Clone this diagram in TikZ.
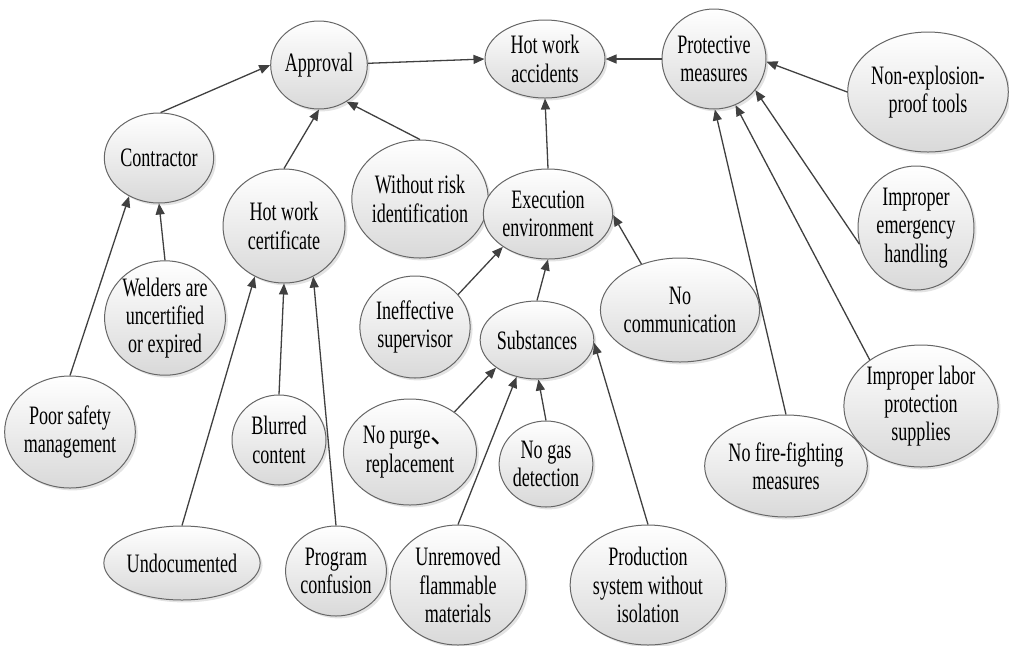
\documentclass[tikz,border=0pt]{standalone}
\usepackage{fontspec}
\setmainfont{Liberation Serif}[FakeStretch=0.68]
\newfontfamily\cjk{Noto Sans CJK SC}
\usepackage{tikz}
\usetikzlibrary{shapes,arrows.meta,shadows,positioning}
\tikzset{
	cause/.style = {draw=black!60, line width=0.5pt, ellipse, inner sep=0pt, align=center,
		top color=white, bottom color=black!15,
		drop shadow={shadow xshift=1.2pt, shadow yshift=-1.2pt, opacity=0.22},
		font=\fontsize{13.3}{14.2}\selectfont},
	sz/.style 2 args = {minimum width=#1pt, minimum height=#2pt},
	link/.style = {draw=black!75, line width=0.65pt}
}

\begin{document}
\begin{tikzpicture}[x=0.5pt, y=-0.5pt, >={Triangle[length=5.5pt,width=4.5pt]}]
    \useasboundingbox (0,0) rectangle (1009,645);

    % top row
    \node [cause, sz={46}{44}] (approval) at (319,65) {Approval};
    \node [cause, sz={60}{39}] (accidents) at (545,59) {Hot work\\accidents};
    \node [cause, sz={52}{50}] (protect) at (714,59) {Protective\\measures};
    \node [cause, sz={80}{60}] (nonexpl) at (928,92) {Non-explosion-\\proof tools};

    % second level
    \node [cause, sz={52}{45}] (contractor) at (159,158) {Contractor};
    \node [cause, sz={61}{57}] (certificate) at (284,226) {Hot work\\certificate};
    \node [cause, sz={62}{59}] (withoutrisk) at (420,199) {Without risk\\identification};
    \node [cause, sz={59}{45}] (execution) at (548,214) {Execution\\environment};
    \node [cause, sz={58}{62}] (emergency) at (916,228) {Improper\\emergency\\handling};

    % third level
    \node [cause, sz={58}{55}] (welders) at (165,318) {Welders are\\uncertified\\or expired};
    \node [cause, sz={53}{51}] (ineffective) at (415,327) {Ineffective\\supervisor};
    \node [cause, sz={53}{39}] (substances) at (537,340) {Substances};
    \node [cause, sz={73}{52}] (nocomm) at (680,310) {No\\communication};
    \node [cause, sz={73}{61}] (labor) at (921,406) {Improper labor\\protection\\supplies};

    % fourth level
    \node [cause, sz={58}{56}] (poorsafety) at (70,432) {Poor safety\\management};
    \node [cause, sz={47}{45}] (blurred) at (279,440) {Blurred\\content};
    \node [cause, sz={53}{53}] (nopurge) at (410,452) {No purge{\cjk 、}\\replacement};
    \node [cause, sz={46}{43}] (nogas) at (546,464) {No gas\\detection};
    \node [cause, sz={73}{51}] (nofire) at (786,466) {No fire-fighting\\measures};

    % bottom row
    \node [cause, sz={74}{37}] (undocumented) at (182,563) {Undocumented};
    \node [cause, sz={47}{45}] (program) at (336,571) {Program\\confusion};
    \node [cause, sz={68}{60}] (unremoved) at (458,585) {Unremoved\\flammable\\materials};
    \node [cause, sz={73}{60}] (production) at (648,585) {Production\\system without\\isolation};

    \draw [link, ->] (approval.2) -- (accidents.180);
    \draw [link, ->] (protect.180) -- (accidents.0);
    \draw [link, ->] (execution.north) -- (accidents.south);

    \draw [link, ->] (contractor.88) -- (approval.180);
    \draw [link, ->] (certificate.north) -- (approval.south);
    \draw [link, ->] (withoutrisk.north) -- (approval.-53);

    \draw [link, ->] (welders.north) -- (contractor.south);
    \draw [link, ->] (poorsafety.north) -- (contractor.232);

    \draw [link, ->] (undocumented.north) -- (certificate.240);
    \draw [link, ->] (blurred.north) -- (certificate.south);
    \draw [link, ->] (program.north) -- (certificate.-60);

    \draw [link, ->] (ineffective.37) -- (execution.216);
    \draw [link, ->] (substances.north) -- (execution.-90);
    \draw [link, ->] (nocomm.130) -- (execution.-1);

    \draw [link, ->] (nopurge.42) -- (substances.214);
    \draw [link, ->] (unremoved.north) -- (substances.241);
    \draw [link, ->] (nogas.north) -- (substances.-88);
    \draw [link, ->] (production.north) -- (substances.-3);

    \draw [link, ->] (nonexpl.180) -- (protect.-3);
    \draw [link, ->] (emergency.196) -- (protect.-37);
    \draw [link, ->] (labor.138) -- (protect.-65);
    \draw [link, ->] (nofire.north) -- (protect.-89);
\end{tikzpicture}
\end{document}
